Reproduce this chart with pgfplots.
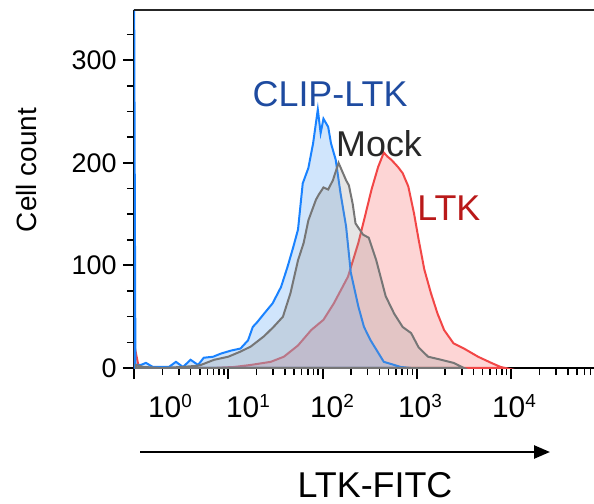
\documentclass[border=0pt]{standalone}
\usepackage{fontspec}
\setmainfont{Liberation Sans}
\usepackage{pgfplots}
\pgfplotsset{compat=1.18}
\usetikzlibrary{arrows.meta,calc}
\definecolor{blueline}{RGB}{25,130,255}
\definecolor{bluefill}{RGB}{120,180,245}
\definecolor{redline}{RGB}{242,70,70}
\definecolor{redfill}{RGB}{250,150,150}
\definecolor{grayline}{RGB}{118,118,118}
\definecolor{grayfill}{RGB}{150,150,150}
\definecolor{cliptext}{RGB}{30,75,160}
\definecolor{mocktext}{RGB}{40,40,40}
\definecolor{ltktext}{RGB}{185,25,25}
\newcommand{\dec}[1]{10\raisebox{10bp}{\fontsize{19}{19}\selectfont #1}}

\begin{document}
\begin{tikzpicture}
\path[use as bounding box] (-134bp,-136bp) rectangle (460bp,368bp);
\begin{axis}[
    at={(0,0)}, anchor=south west,
    scale only axis, width=460bp, height=358bp,
    xmin=0, xmax=4.88, ymin=0, ymax=349,
    axis x line*=bottom, axis y line*=left,
    axis line style={line width=2bp, -},
    xtick={0,1,2,3,4}, xticklabels={},
    minor xtick={0.301,0.477,0.602,0.699,0.778,0.845,0.903,0.954,
                 1.301,1.477,1.602,1.699,1.778,1.845,1.903,1.954,
                 2.301,2.477,2.602,2.699,2.778,2.845,2.903,2.954,
                 3.301,3.477,3.602,3.699,3.778,3.845,3.903,3.954,
                 4.301,4.477,4.602,4.699,4.778,4.845},
    ytick={0,100,200,300},
    minor ytick={25,50,75,125,150,175,225,250,275,325},
    tick align=outside,
    major tick length=11bp, minor tick length=7bp,
    every major tick/.style={line width=2bp, black},
    every minor tick/.style={line width=1.5bp, black},
    yticklabel style={font=\fontsize{27}{27}\selectfont, xshift=-3bp},
    /pgf/number format/assume math mode=true,
]
% LTK
\addplot[draw=redline, line width=2bp, fill=redfill, fill opacity=0.4]
    coordinates {(0,24) (0.05,1) (0.2,0) (0.82,0) (1.06,1) (1.24,3) (1.45,6)
    (1.59,11) (1.74,22) (1.88,37) (2.01,47) (2.12,63) (2.27,89) (2.38,122)
    (2.44,144) (2.52,174) (2.59,196) (2.65,210) (2.69,206) (2.73,203)
    (2.80,196) (2.85,190) (2.91,177) (2.97,151) (3.02,125) (3.08,96)
    (3.15,73) (3.22,53) (3.29,37) (3.39,24) (3.50,19) (3.65,11) (3.79,5)
    (3.89,1) (3.94,0)} \closedcycle;
% CLIP-LTK
\addplot[draw=blueline, line width=2bp, fill=bluefill, fill opacity=0.35]
    coordinates {(0,400) (0.015,3) (0.074,3) (0.127,5) (0.20,1) (0.37,1)
    (0.445,6) (0.52,1) (0.60,8) (0.68,3) (0.74,10) (0.84,11) (0.92,14)
    (1.03,17) (1.13,19) (1.21,27) (1.26,40) (1.31,45) (1.38,53) (1.47,63)
    (1.56,79) (1.63,99) (1.69,118) (1.74,135) (1.79,180) (1.85,195)
    (1.90,219) (1.95,252) (1.98,229) (2.01,243) (2.06,235) (2.09,219)
    (2.14,203) (2.19,171) (2.25,138) (2.30,93) (2.38,60) (2.44,40)
    (2.51,27) (2.59,15) (2.65,6) (2.76,3) (2.83,1) (2.94,0)} \closedcycle;
% Mock
\addplot[draw=grayline, line width=2bp, fill=grayfill, fill opacity=0.25]
    coordinates {(0.02,3) (0.1,1) (0.3,0) (0.5,1) (0.65,2) (0.71,3)
    (0.85,8) (1.00,11) (1.13,16) (1.24,21) (1.38,31) (1.48,40) (1.58,50)
    (1.66,73) (1.74,105) (1.80,122) (1.85,144) (1.93,164) (1.96,169)
    (2.01,176) (2.06,174) (2.11,183) (2.17,200) (2.25,183) (2.28,178)
    (2.32,160) (2.35,141) (2.43,130) (2.49,127) (2.57,105) (2.67,70)
    (2.76,53) (2.85,40) (2.94,34) (3.02,20) (3.12,11) (3.26,8) (3.39,5)
    (3.50,0)} \closedcycle;
\draw[line width=1.4bp, black!85] (rel axis cs:0,1) -- (rel axis cs:1,1);
\node[text=cliptext, font=\fontsize{36}{36}\selectfont] at (axis cs:2.08,267) {CLIP-LTK};
\node[text=mocktext, font=\fontsize{36}{36}\selectfont] at (axis cs:2.60,219) {Mock};
\node[text=ltktext, font=\fontsize{36}{36}\selectfont] at (axis cs:3.34,156) {LTK};
\end{axis}
% decade labels
\foreach \x/\e in {36/0, 114/1, 198/2, 286/3, 380/4}
  \node[anchor=base, font=\fontsize{30}{30}\selectfont] at (\x bp,-49bp) {\dec{\e}};
\draw[line width=2.5bp, -{Triangle[length=16bp,width=13bp]}] (6bp,-84bp) -- (416bp,-84bp);
\node[font=\fontsize{36}{36}\selectfont] at (241bp,-117bp) {LTK-FITC};
\node[rotate=90, font=\fontsize{28}{28}\selectfont] at (-107bp,198bp) {Cell count};
\end{tikzpicture}
\end{document}
